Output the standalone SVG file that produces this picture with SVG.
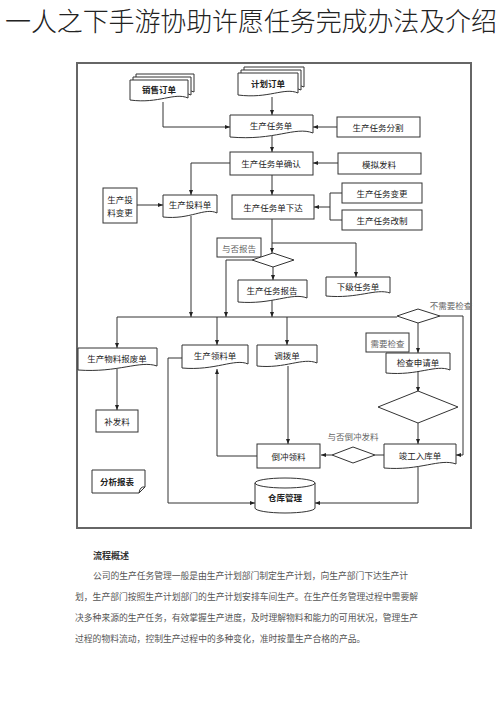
<svg xmlns="http://www.w3.org/2000/svg" width="500" height="707" viewBox="0 0 500 707">
<defs>
<marker id="a" viewBox="0 0 10 10" refX="10" refY="5" markerWidth="5" markerHeight="5" orient="auto"><path d="M0,1 L10,5 L0,9 z" fill="#222"/></marker>
<style>
.t{font-family:"Noto Sans CJK SC","Noto Sans",sans-serif;font-size:8.5px;fill:#222;text-anchor:middle;dominant-baseline:central}
.b{font-weight:bold}
.l{font-family:"Noto Sans CJK SC","Noto Sans",sans-serif;font-size:8.5px;fill:#666;text-anchor:middle;dominant-baseline:central}
.n{fill:#fff;stroke:#333;stroke-width:1}
.c{fill:none;stroke:#333;stroke-width:1}
.ca{fill:none;stroke:#333;stroke-width:1;marker-end:url(#a)}
.p{font-family:"Noto Sans CJK SC","Noto Sans",sans-serif;font-size:8.8px;fill:#555}
</style>
</defs>
<rect width="500" height="707" fill="#fff"/>
<text x="5" y="31" font-family="'Noto Sans CJK SC',sans-serif" font-size="26" font-weight="300" fill="#222" textLength="492">一人之下手游协助许愿任务完成办法及介绍</text>
<rect x="77" y="63" width="394" height="465" fill="none" stroke="#666" stroke-width="2"/>

<g id="connectors">
<path class="ca" d="M163,102 V127 H230"/>
<path class="ca" d="M272,97 V115"/>
<path class="ca" d="M337,127 H313"/>
<path class="ca" d="M272,136 V152"/>
<path class="ca" d="M338,163 H313"/>
<path class="ca" d="M230,163 H191 V195"/>
<path class="ca" d="M272,175 V195"/>
<path class="ca" d="M137,205 H163"/>
<path class="c" d="M342,193 H330 V220 H342"/>
<path class="ca" d="M330,207 H314"/>
<path class="ca" d="M272,219 V253"/>
<path class="ca" d="M272,243 H356 V277"/>
<path class="ca" d="M273,267 V280"/>
<path class="ca" d="M252,260 H226 V317"/>
<path class="ca" d="M191,216 V317"/>
<path class="ca" d="M272,300 V317"/>
<path class="c" d="M117,317 H397"/>
<path class="ca" d="M117,317 V348"/>
<path class="ca" d="M217,317 V345"/>
<path class="ca" d="M287,317 V345"/>
<path class="ca" d="M440,316 H463 V455 H456"/>
<path class="ca" d="M418,323 V353"/>
<path class="ca" d="M418,371 V392"/>
<path class="ca" d="M418,423 V444"/>
<path class="c" d="M385,455 H375"/>
<path class="ca" d="M332,455 H321"/>
<path class="ca" d="M288,366 V444"/>
<path class="ca" d="M257,456 H217 V369"/>
<path class="ca" d="M182,358 H168 V503 H255"/>
<path class="ca" d="M418,466 V503 H315"/>
<path class="ca" d="M117,369 V410"/>
</g>

<g id="xiaoshou">
<path class="n" d="M136,74 H194 V92 C180,86 165,98 136,94 Z"/>
<path class="n" d="M133,77 H191 V95 C177,89 162,101 133,97 Z"/>
<path class="n" d="M130,80 H188 V98 C174,92 159,104 130,100 Z"/>
<text class="t b" x="159" y="89">销售订单</text>
</g>
<g id="jihua">
<path class="n" d="M244,67 H304 V87 C290,81 275,93 244,89 Z"/>
<path class="n" d="M241,70 H301 V90 C287,84 272,96 241,92 Z"/>
<path class="n" d="M238,73 H298 V93 C284,87 269,99 238,95 Z"/>
<text class="t b" x="268" y="83">计划订单</text>
</g>
<g id="renwudan">
<path class="n" d="M230,115 H313 V133 C295,126 275,141 230,137 Z"/>
<text class="t" x="271" y="125">生产任务单</text>
</g>
<g id="fenge">
<rect class="n" x="337" y="117" width="83" height="20"/>
<text class="t" x="378" y="127">生产任务分割</text>
</g>
<g id="queren">
<rect class="n" x="230" y="152" width="83" height="23"/>
<text class="t" x="271" y="163">生产任务单确认</text>
</g>
<g id="moni">
<rect class="n" x="338" y="153" width="83" height="21"/>
<text class="t" x="379" y="164">模拟发料</text>
</g>
<g id="touliaobiangeng">
<rect class="n" x="103" y="188" width="34" height="35"/>
<text class="t" x="120" y="199">生产投</text>
<text class="t" x="120" y="212">料变更</text>
</g>
<g id="touliaodan">
<path class="n" d="M163,195 H217 V213 C205,207 190,220 163,217 Z"/>
<text class="t" x="190" y="204">生产投料单</text>
</g>
<g id="xiada">
<rect class="n" x="232" y="195" width="82" height="24"/>
<text class="t" x="273" y="207">生产任务单下达</text>
</g>
<g id="biangeng">
<rect class="n" x="342" y="183" width="80" height="20"/>
<text class="t" x="382" y="193">生产任务变更</text>
</g>
<g id="gaizhi">
<rect class="n" x="342" y="210" width="80" height="20"/>
<text class="t" x="382" y="220">生产任务改制</text>
</g>
<g id="yufoubaogao">
<rect class="n" x="217" y="238" width="44" height="19"/>
<text class="l" x="239" y="247.5">与否报告</text>
</g>
<g id="d1">
<polygon class="n" points="252,260 273,253 294,260 273,267"/>
</g>
<g id="baogao">
<path class="n" d="M238,280 H307 V298 C292,292 272,305 238,302 Z"/>
<text class="t" x="272" y="290">生产任务报告</text>
</g>
<g id="xiaji">
<path class="n" d="M326,277 H390 V293 C376,288 358,299 326,296 Z"/>
<text class="t" x="358" y="286">下级任务单</text>
</g>
<g id="d2">
<polygon class="n" points="397,316 418,309 440,316 418,323"/>
<text class="l" x="451" y="305">不需要检查</text>
</g>
<g id="baofei">
<path class="n" d="M78,348 H157 V366 C140,360 118,373 78,370 Z"/>
<text class="t" x="117" y="358">生产物料报废单</text>
</g>
<g id="lingliao">
<path class="n" d="M182,345 H248 V364 C235,358 215,371 182,368 Z"/>
<text class="t" x="215" y="355">生产领料单</text>
</g>
<g id="diaobo">
<path class="n" d="M257,345 H317 V363 C303,357 285,369 257,366 Z"/>
<text class="t" x="287" y="355">调拨单</text>
</g>
<g id="xuyao">
<rect class="n" x="366" y="333" width="43" height="19"/>
<text class="l" x="387.5" y="342.5">需要检查</text>
</g>
<g id="jiancha">
<path class="n" d="M386,353 H450 V370 C436,364 418,376 386,373 Z"/>
<text class="t" x="418" y="362">检查申请单</text>
</g>
<g id="d3">
<polygon class="n" points="378,407 418,391 458,407 418,423"/>
</g>
<g id="bufaliao">
<rect class="n" x="96" y="410" width="42" height="22"/>
<text class="t" x="117" y="421">补发料</text>
</g>
<g id="ruku">
<path class="n" d="M384,444 H456 V464 C440,458 420,471 384,468 Z"/>
<text class="t" x="420" y="455">竣工入库单</text>
</g>
<g id="d4">
<polygon class="n" points="332,455 353,447 375,455 353,463"/>
<text class="l" x="353" y="436">与否倒冲发料</text>
</g>
<g id="daochong">
<rect class="n" x="257" y="444" width="63" height="24"/>
<text class="t" x="288.5" y="456">倒冲领料</text>
</g>
<g id="fenxi">
<path class="n" d="M92,470 H145 V487 L139,493 H92 Z"/>
<path class="c" d="M145,487 Q140,486 139,493"/>
<text class="t b" x="117" y="481">分析报表</text>
</g>
<g id="cangku">
<path class="n" d="M255,483 A30,5 0 0 1 315,483 V508 A30,5 0 0 1 255,508 Z"/>
<path class="c" d="M255,483 A30,5 0 0 0 315,483"/>
<text class="t b" x="285" y="497">仓库管理</text>
</g>

<text x="93" y="559" font-family="'Noto Sans CJK SC',sans-serif" font-size="9" font-weight="bold" fill="#333">流程概述</text>
<text class="p" x="93" y="579" textLength="315">公司的生产任务管理一般是由生产计划部门制定生产计划，向生产部门下达生产计</text>
<text class="p" x="75" y="600" textLength="343">划，生产部门按照生产计划部门的生产计划安排车间生产。在生产任务管理过程中需要解</text>
<text class="p" x="75" y="621" textLength="343">决多种来源的生产任务，有效掌握生产进度，及时理解物料和能力的可用状况，管理生产</text>
<text class="p" x="75" y="642">过程的物料流动，控制生产过程中的多种变化，准时按量生产合格的产品。</text>
</svg>
